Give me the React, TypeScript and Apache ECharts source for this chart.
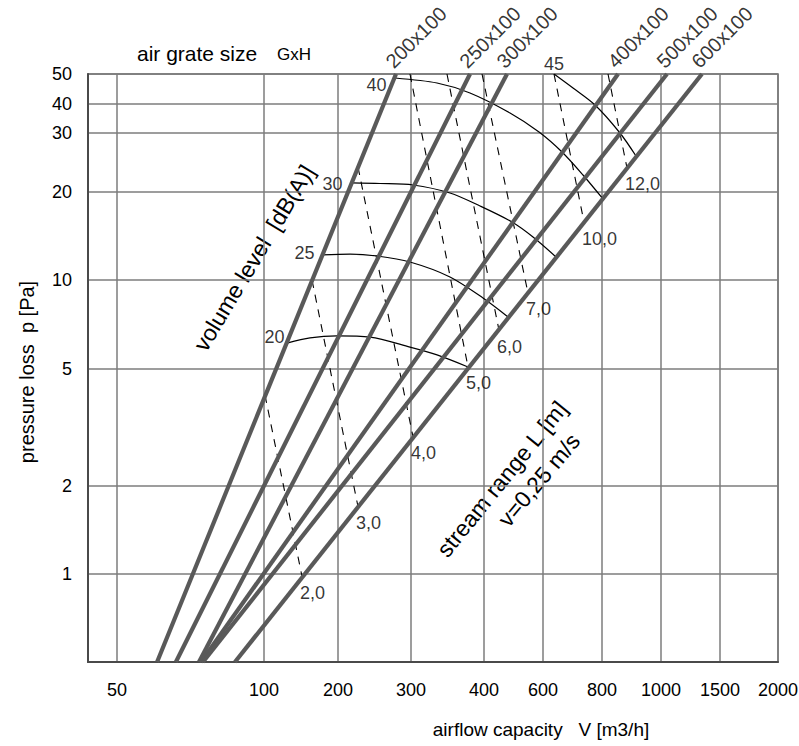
import React, { useEffect, useRef } from "react";
import * as echarts from "echarts";

// Axis ticks (the original nomogram axis is irregular: each label sits at its own gridline)
const X_TICKS = [50, 100, 200, 300, 400, 600, 800, 1000, 1500, 2000];
const X_TICK_POS = [29, 176, 250, 323, 396, 455, 514, 573, 632, 690];
const Y_TICKS = [1, 2, 5, 10, 20, 30, 40, 50];
const Y_TICK_POS = [88, 176, 293, 382, 470, 529, 558, 588];

// Air grate size lines (V in m3/h, p in Pa)
const GRATE_SIZES = ["200x100", "250x100", "300x100", "400x100", "500x100", "600x100"];
const GRATE_V_BOTTOM = [60.4, 66.0, 73.6, 74.3, 75.0, 87.2];
const GRATE_V_TOP = [276, 378.5, 468.5, 850, 1042, 1325];
const GRATE_P_BOTTOM = 0.5;
const GRATE_P_TOP = 50;

// Stream range L [m] (dashed lines)
const RANGE_LABELS = ["2,0", "3,0", "4,0", "5,0", "6,0", "7,0", "10,0", "12,0"];
const RANGE_START_V = [100.9, 156.8, 223.5, 298.3, 345.7, 396.9, 633.1, 818.4];
const RANGE_START_P = [4.08, 10, 23.75, 50, 50, 50, 50, 50];
const RANGE_END_V = [142.8, 223.5, 302.4, 375.6, 443.4, 541.2, 732.8, 879.3];
const RANGE_END_P = [0.98, 1.7, 2.94, 5.08, 6.77, 9.04, 15.79, 23.59];

// Volume level [dB(A)] curves
const NOISE_LEVELS = ["20", "25", "30", "40", "45"];
const NOISE_V = [
  [124.0, 153.9, 198.1, 238.9, 298.3, 332.4, 375.6],
  [172.2, 213.8, 248.4, 298.3, 349.8, 398.4, 471.8],
  [216.2, 252.6, 302.4, 349.8, 393.8, 484.9, 560.2, 639.3],
  [274.5, 332.4, 378.5, 478.3, 583.8, 658.3, 729.2, 803],
  [633.1, 694.5, 773.2, 856.3, 909.8],
];
const NOISE_P = [
  [6.12, 6.37, 6.47, 6.41, 5.93, 5.58, 5.08],
  [12.18, 12.27, 12.08, 11.52, 10.24, 8.69, 7.5],
  [21.28, 21.2, 20.99, 19.84, 17.91, 15.79, 14.03, 11.99],
  [48.53, 46.76, 43.41, 36.59, 30.3, 26.33, 22.48, 18.93],
  [50, 45.06, 39.61, 30, 25.61],
];

const FONT = "'Liberation Sans', Arial, Helvetica, sans-serif";

function toPos(v: number, ticks: number[], pos: number[]): number {
  let i = 0;
  while (i < ticks.length - 2 && v > ticks[i + 1]) i++;
  const a = Math.log(ticks[i]);
  const b = Math.log(ticks[i + 1]);
  return pos[i] + ((Math.log(v) - a) / (b - a)) * (pos[i + 1] - pos[i]);
}
const X = (v: number) => toPos(v, X_TICKS, X_TICK_POS);
const Y = (p: number) => toPos(p, Y_TICKS, Y_TICK_POS);

const NOISE_LABEL_STYLE: any[] = [
  { position: "left", distance: 2, offset: [0, -6] },
  { position: "left", distance: 7, offset: [0, -2] },
  { position: "left", distance: 9, offset: [0, 1] },
  { position: "left", distance: 8, offset: [0, 7] },
  { position: "top", distance: 1, offset: [0, 0] },
];

export default function App() {
  const ref = useRef<HTMLDivElement>(null);
  useEffect(() => {
    if (!ref.current) return;
    const chart = echarts.init(ref.current, undefined, { renderer: "svg" });
    const series: any[] = [];

    NOISE_LEVELS.forEach((lvl, k) => {
      series.push({
        type: "line",
        name: "dB " + lvl,
        data: NOISE_V[k].map((v, i) => [X(v), Y(NOISE_P[k][i])]),
        smooth: 0.3,
        symbol: "none",
        lineStyle: { color: "#000", width: 1.2 },
        z: 3,
      });
    });
    RANGE_LABELS.forEach((lbl, k) => {
      series.push({
        type: "line",
        name: "L " + lbl,
        data: [
          [X(RANGE_START_V[k]), Y(RANGE_START_P[k])],
          [X(RANGE_END_V[k]), Y(RANGE_END_P[k])],
        ],
        symbol: "none",
        lineStyle: { color: "#000", width: 1.1, type: [8, 7] },
        z: 3,
      });
    });
    GRATE_SIZES.forEach((g, k) => {
      series.push({
        type: "line",
        name: g,
        data: [
          [X(GRATE_V_BOTTOM[k]), Y(GRATE_P_BOTTOM)],
          [X(GRATE_V_TOP[k]), Y(GRATE_P_TOP)],
        ],
        symbol: "none",
        lineStyle: { color: "#595959", width: 4.2 },
        z: 4,
      });
    });

    const labelBase = { show: true, color: "#000", fontFamily: FONT, fontSize: 18 };
    series.push({
      type: "scatter",
      name: "labels",
      symbolSize: 1,
      itemStyle: { color: "rgba(0,0,0,0)" },
      z: 6,
      silent: true,
      data: [
        ...GRATE_SIZES.map((g, k) => ({
          value: [X(GRATE_V_TOP[k]), Y(GRATE_P_TOP)],
          label: {
            ...labelBase,
            formatter: g,
            position: "top",
            distance: 2,
            align: "left",
            verticalAlign: "bottom",
            rotate: 45,
            fontSize: 20,
          },
        })),
        ...NOISE_LEVELS.map((lvl, k) => ({
          value: [X(NOISE_V[k][0]), Y(NOISE_P[k][0])],
          label: {
            ...labelBase,
            formatter: lvl,
            ...NOISE_LABEL_STYLE[k],
          },
        })),
        ...RANGE_LABELS.map((lbl, k) => ({
          value: [X(RANGE_END_V[k]), Y(RANGE_END_P[k])],
          label: {
            ...labelBase,
            formatter: lbl,
            position: "bottom",
            distance: 7,
            align: "left",
            offset: [-2, 0],
          },
        })),
      ],
    });

    const gridLine = { show: true, lineStyle: { color: "#7d7d7d", width: 1.5 } };

    chart.setOption({
      animation: false,
      textStyle: { fontFamily: FONT },
      grid: {
        left: 88,
        top: 74,
        right: 21,
        bottom: 84,
        show: true,
        borderColor: "#6e6e6e",
        borderWidth: 1.5,
        outerBoundsMode: "none",
      } as any,
      xAxis: {
        type: "value",
        min: 0,
        max: 690,
        axisLine: { show: true, onZero: false, lineStyle: { color: "#4a4a4a", width: 2 } },
        axisTick: { show: false, customValues: X_TICK_POS },
        splitLine: gridLine,
        axisLabel: {
          customValues: X_TICK_POS,
          margin: 19,
          fontSize: 18,
          color: "#000",
          fontFamily: FONT,
          showMinLabel: true,
          showMaxLabel: true,
          formatter: (v: number) => {
            const i = X_TICK_POS.indexOf(v);
            return i >= 0 ? String(X_TICKS[i]) : "";
          },
        },
      },
      yAxis: {
        type: "value",
        min: 0,
        max: 588,
        axisLine: { show: true, onZero: false, lineStyle: { color: "#4a4a4a", width: 2 } },
        axisTick: { show: false, customValues: Y_TICK_POS },
        splitLine: gridLine,
        axisLabel: {
          customValues: Y_TICK_POS,
          margin: 16,
          fontSize: 18,
          color: "#000",
          fontFamily: FONT,
          showMinLabel: true,
          showMaxLabel: true,
          formatter: (v: number) => {
            const i = Y_TICK_POS.indexOf(v);
            return i >= 0 ? String(Y_TICKS[i]) : "";
          },
        },
      },
      graphic: [
        {
          type: "text",
          x: 137,
          y: 53,
          style: { text: "air grate size", fontSize: 21, fontFamily: FONT, fill: "#000", textAlign: "left", textVerticalAlign: "middle", align: "left", verticalAlign: "middle" },
        },
        {
          type: "text",
          x: 277,
          y: 54,
          style: { text: "GxH", fontSize: 17, fontFamily: FONT, fill: "#000", textAlign: "left", textVerticalAlign: "middle", align: "left", verticalAlign: "middle" },
        },
        {
          type: "text",
          x: 27,
          y: 372,
          rotation: Math.PI / 2,
          style: { text: "pressure loss  p [Pa]", fontSize: 20, fontFamily: FONT, fill: "#000", textAlign: "center", textVerticalAlign: "middle", align: "center", verticalAlign: "middle" },
        },
        {
          type: "text",
          x: 541,
          y: 729,
          style: { text: "airflow capacity   V [m3/h]", fontSize: 19, fontFamily: FONT, fill: "#000", textAlign: "center", textVerticalAlign: "middle", align: "center", verticalAlign: "middle" },
        },
        {
          type: "text",
          x: 254,
          y: 258,
          rotation: (59 * Math.PI) / 180,
          style: { text: "volume level  [dB(A)]", fontSize: 23, fontFamily: FONT, fill: "#000", textAlign: "center", textVerticalAlign: "middle", align: "center", verticalAlign: "middle" },
        },
        {
          type: "text",
          x: 502,
          y: 479,
          rotation: (51 * Math.PI) / 180,
          style: { text: "stream range L [m]", fontSize: 23, fontFamily: FONT, fill: "#000", textAlign: "center", textVerticalAlign: "middle", align: "center", verticalAlign: "middle" },
        },
        {
          type: "text",
          x: 539,
          y: 480,
          rotation: (50 * Math.PI) / 180,
          style: { text: "v=0,25 m/s", fontSize: 23, fontFamily: FONT, fill: "#000", textAlign: "center", textVerticalAlign: "middle", align: "center", verticalAlign: "middle" },
        },
      ],
      series,
    });
    return () => chart.dispose();
  }, []);
  return (
    <div
      ref={ref}
      style={{ position: "fixed", left: 0, top: 0, width: 799, height: 746, background: "#fff" }}
    />
  );
}
